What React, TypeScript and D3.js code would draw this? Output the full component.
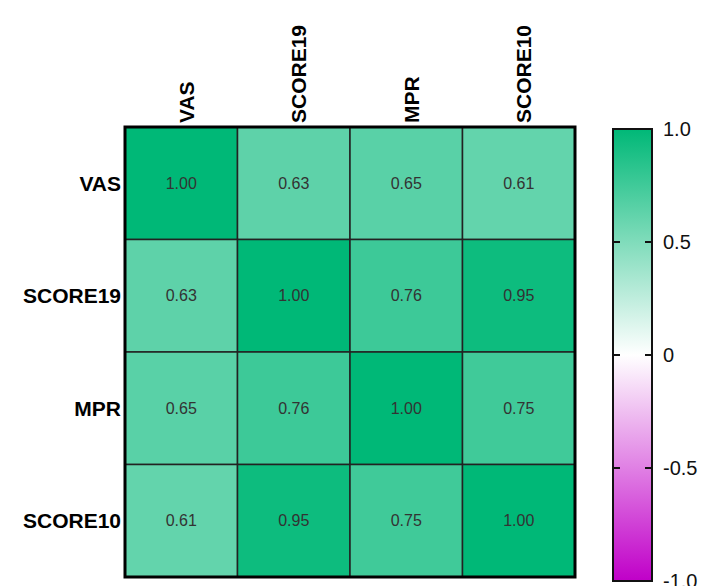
import React from "react";
import { scaleBand, scaleLinear, interpolateRgb } from "d3";

const variables = ["VAS", "SCORE19", "MPR", "SCORE10"];
const correlations = [
  [1.0, 0.63, 0.65, 0.61],
  [0.63, 1.0, 0.76, 0.95],
  [0.65, 0.76, 1.0, 0.75],
  [0.61, 0.95, 0.75, 1.0]
];
const legendTicks = [1, 0.5, 0, -0.5, -1];
const legendTickLabels = ["1.0", "0.5", "0", "-0.5", "-1.0"];

const W = 710;
const H = 586;
const font = "'Liberation Sans', Arial, sans-serif";

export default function App() {
  const grid = { left: 125, top: 127, size: 450 };
  const bar = { left: 613, width: 39, top: 129, bottom: 581 };

  const x = scaleBand()
    .domain(variables)
    .range([grid.left, grid.left + grid.size]);
  const y = scaleBand()
    .domain(variables)
    .range([grid.top, grid.top + grid.size]);

  const color = scaleLinear<string>()
    .domain([-1, 0, 1])
    .range(["#c000c8", "#ffffff", "#00b877"])
    .interpolate(interpolateRgb);

  const legendY = scaleLinear().domain([-1, 1]).range([bar.bottom, bar.top]);
  const stops = [1, 0.75, 0.5, 0.25, 0, -0.25, -0.5, -0.75, -1];

  return (
    <svg
      width={W}
      height={H}
      style={{ position: "absolute", left: 0, top: 0, background: "#fff" }}
      fontFamily={font}
    >
      <defs>
        <linearGradient id="cbar" x1="0" y1="0" x2="0" y2="1">
          {stops.map((s, i) => (
            <stop key={i} offset={`${(i / (stops.length - 1)) * 100}%`} stopColor={color(s)} />
          ))}
        </linearGradient>
      </defs>

      {/* cells */}
      {correlations.map((row, i) =>
        row.map((v, j) => (
          <g key={`${i}-${j}`}>
            <rect
              x={x(variables[j])!}
              y={y(variables[i])!}
              width={x.bandwidth()}
              height={y.bandwidth()}
              fill={color(v)}
              stroke="#222"
              strokeWidth={1.5}
            />
            <text
              x={x(variables[j])! + x.bandwidth() / 2}
              y={y(variables[i])! + y.bandwidth() / 2}
              textAnchor="middle"
              dominantBaseline="central"
              fontSize={16}
              fill="#333"
            >
              {v.toFixed(2)}
            </text>
          </g>
        ))
      )}
      <rect
        x={grid.left}
        y={grid.top}
        width={grid.size}
        height={grid.size}
        fill="none"
        stroke="#000"
        strokeWidth={3}
      />

      {/* row labels */}
      {variables.map((v) => (
        <text
          key={`r-${v}`}
          x={grid.left - 4}
          y={y(v)! + y.bandwidth() / 2}
          textAnchor="end"
          dominantBaseline="central"
          fontSize={21}
          fontWeight="bold"
          fill="#000"
        >
          {v}
        </text>
      ))}

      {/* column labels */}
      {variables.map((v) => (
        <text
          key={`c-${v}`}
          transform={`translate(${x(v)! + x.bandwidth() / 2 + 5},${grid.top - 4}) rotate(-90)`}
          textAnchor="start"
          dominantBaseline="central"
          fontSize={21}
          fontWeight="bold"
          fill="#000"
        >
          {v}
        </text>
      ))}

      {/* colour bar */}
      <rect
        x={bar.left}
        y={bar.top}
        width={bar.width}
        height={bar.bottom - bar.top}
        fill="url(#cbar)"
        stroke="#111"
        strokeWidth={2}
      />
      {legendTicks.map((t, i) => (
        <g key={`t-${i}`}>
          {t !== 1 && t !== -1 && (
            <>
              <line
                x1={bar.left}
                x2={bar.left + 7}
                y1={legendY(t)}
                y2={legendY(t)}
                stroke="#111"
                strokeWidth={2}
              />
              <line
                x1={bar.left + bar.width - 7}
                x2={bar.left + bar.width}
                y1={legendY(t)}
                y2={legendY(t)}
                stroke="#111"
                strokeWidth={2}
              />
            </>
          )}
          <text
            x={bar.left + bar.width + 11}
            y={legendY(t)}
            dominantBaseline="central"
            fontSize={20}
            fill="#111"
          >
            {legendTickLabels[i]}
          </text>
        </g>
      ))}
    </svg>
  );
}
